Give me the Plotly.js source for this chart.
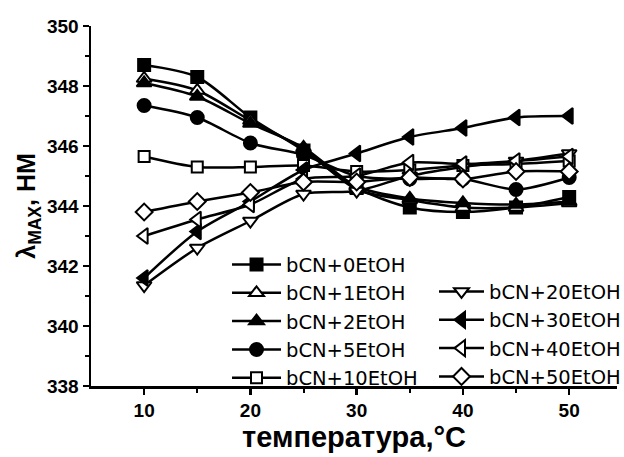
<!DOCTYPE html>
<html>
<head>
<meta charset="utf-8">
<script src="https://cdn.plot.ly/plotly-3.0.1.min.js"></script>
<style>html,body{margin:0;padding:0;background:#fff;}#chart{width:624px;height:457px;}</style>
</head>
<body>
<div id="chart"></div>
<script>
const temperature = [10, 15, 20, 25, 30, 35, 40, 45, 50];
const seriesNames = ["bCN+0EtOH", "bCN+1EtOH", "bCN+2EtOH", "bCN+5EtOH", "bCN+10EtOH",
                     "bCN+20EtOH", "bCN+30EtOH", "bCN+40EtOH", "bCN+50EtOH"];
const eth0  = [348.7, 348.3, 346.95, 345.85, 344.6, 343.95, 343.8, 343.95, 344.3];
const eth1  = [348.25, 347.85, 346.85, 345.9, 344.55, 344.2, 343.95, 343.95, 344.1];
const eth2  = [348.1, 347.65, 346.75, 345.95, 344.65, 344.25, 344.1, 344.05, 344.15];
const eth5  = [347.35, 346.95, 346.1, 345.7, 345.0, 344.9, 344.9, 344.55, 344.95];
const eth10 = [345.65, 345.3, 345.3, 345.35, 345.15, 345.2, 345.35, 345.4, 345.5];
const eth20 = [341.35, 342.6, 343.5, 344.4, 344.5, 345.0, 345.3, 345.5, 345.75];
const eth30 = [341.6, 343.15, 344.15, 345.2, 345.75, 346.3, 346.6, 346.95, 347.0];
const eth40 = [343.0, 343.55, 344.05, 344.9, 345.0, 345.45, 345.4, 345.5, 345.65];
const eth50 = [343.8, 344.15, 344.45, 344.8, 344.8, 344.95, 344.9, 345.15, 345.15];
const allValues = [eth0, eth1, eth2, eth5, eth10, eth20, eth30, eth40, eth50];
const symbols = ["square", "triangle-up", "triangle-up", "circle", "square",
                 "triangle-down", "triangle-left", "triangle-left", "diamond"];
const filled = [true, false, true, true, false, false, true, false, false];
const sizes = [12, 13, 13, 13, 11, 13, 14, 14, 13];

const traces = allValues.map((vals, i) => ({
  x: temperature,
  y: vals,
  name: seriesNames[i],
  type: "scatter",
  mode: "lines+markers",
  line: {color: "#000", width: 2.5, shape: "spline", smoothing: 0.8},
  marker: {symbol: symbols[i], size: sizes[i], color: filled[i] ? "#000" : "#fff",
           line: {color: "#000", width: 2}},
  legend: i < 5 ? "legend" : "legend2"
}));

const boldFamily = "Liberation Sans, Arial, sans-serif";
const tickFont = {family: boldFamily, size: 19, color: "#000", weight: "bold"};
const legendFont = {family: "DejaVu Sans, sans-serif", size: 19.5, color: "#000"};

const layout = {
  width: 624, height: 457,
  margin: {l: 91, r: 7, t: 26, b: 71, autoexpand: false},
  paper_bgcolor: "#fff", plot_bgcolor: "#fff",
  showlegend: true,
  xaxis: {
    range: [5, 54.5], tickvals: [10, 20, 30, 40, 50],
    showline: true, linecolor: "#000", linewidth: 2.5, mirror: false,
    ticks: "outside", ticklen: 6, tickwidth: 2.5, tickcolor: "#000",
    minor: {tickvals: [15, 25, 35, 45], ticks: "outside", ticklen: 4, tickwidth: 2, tickcolor: "#000"},
    showgrid: false, zeroline: false,
    tickfont: tickFont,
    title: {text: "температура,°C", font: {family: boldFamily, size: 29, color: "#000", weight: "bold"}, standoff: 0}
  },
  yaxis: {
    range: [338, 350], tickvals: [338, 340, 342, 344, 346, 348, 350],
    showline: true, linecolor: "#000", linewidth: 2.5, mirror: false,
    ticks: "outside", ticklen: 6, tickwidth: 2.5, tickcolor: "#000",
    minor: {tickvals: [339, 341, 343, 345, 347, 349], ticks: "outside", ticklen: 4, tickwidth: 2, tickcolor: "#000"},
    showgrid: false, zeroline: false,
    tickfont: tickFont,
    title: {text: "λ<sub>MAX</sub>, НМ", font: {family: boldFamily, size: 25, color: "#000", weight: "bold"}, standoff: 4}
  },
  legend: {
    x: 0.2586, y: 0.391, xanchor: "left", yanchor: "top",
    bgcolor: "rgba(0,0,0,0)", borderwidth: 0, font: legendFont, tracegroupgap: 0,
    itemwidth: 49
  },
  legend2: {
    x: 0.6521, y: 0.316, xanchor: "left", yanchor: "top",
    bgcolor: "rgba(0,0,0,0)", borderwidth: 0, font: legendFont, tracegroupgap: 0,
    itemwidth: 45
  }
};

Plotly.newPlot("chart", traces, layout, {displayModeBar: false, staticPlot: true});
</script>
</body>
</html>
